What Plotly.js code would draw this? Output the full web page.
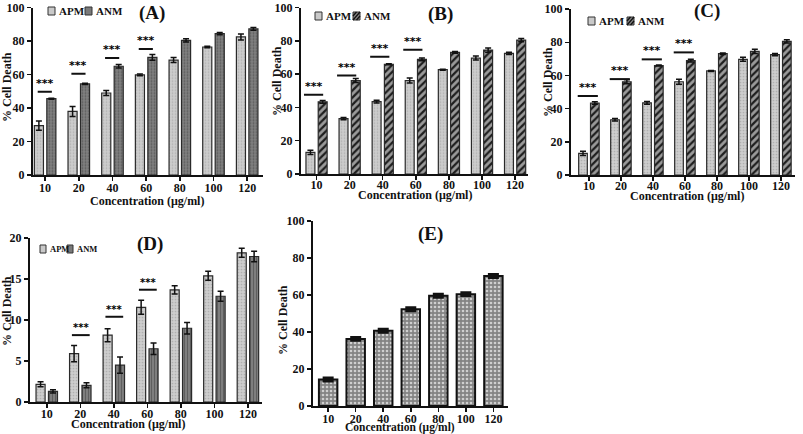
<!DOCTYPE html>
<html><head><meta charset="utf-8">
<script src="https://cdn.plot.ly/plotly-3.0.1.min.js"></script>
<style>html,body{margin:0;padding:0;background:#fff}#chart{width:803px;height:434px}</style>
</head><body><div id="chart"></div>
<script>
// ---------- data ----------
const categories = ["10","20","40","60","80","100","120"];

const A_apm     = [29.5, 38.0, 49.0, 59.8, 68.7, 76.5, 82.5];
const A_apm_err = [2.8, 3.0, 1.5, 0.5, 1.5, 0.5, 1.8];
const A_anm     = [45.6, 54.5, 65.0, 70.3, 80.5, 84.5, 87.3];
const A_anm_err = [0.3, 0.4, 1.0, 1.7, 1.0, 0.7, 0.8];

const B_apm     = [13.0, 33.3, 43.5, 56.2, 62.7, 69.7, 72.5];
const B_apm_err = [1.3, 0.7, 0.8, 1.5, 0.3, 1.2, 0.7];
const B_anm     = [43.4, 56.2, 66.0, 68.9, 73.1, 74.5, 80.5];
const B_anm_err = [0.8, 1.2, 0.3, 0.8, 0.5, 1.3, 1.0];

const C_apm     = [13.0, 33.3, 43.5, 56.2, 62.7, 69.7, 72.5];
const C_apm_err = [1.3, 0.7, 0.8, 1.5, 0.3, 1.2, 0.7];
const C_anm     = [43.4, 56.2, 66.0, 68.9, 73.1, 74.5, 80.5];
const C_anm_err = [0.8, 1.2, 0.3, 0.8, 0.5, 1.3, 1.0];

const D_apm     = [2.16, 5.9, 8.15, 11.55, 13.67, 15.4, 18.2];
const D_apm_err = [0.3, 1.0, 0.8, 0.85, 0.5, 0.55, 0.55];
const D_anm     = [1.3, 2.04, 4.5, 6.5, 9.0, 12.9, 17.75];
const D_anm_err = [0.2, 0.3, 1.0, 0.7, 0.7, 0.6, 0.65];

const E_vals    = [14.3, 36.3, 40.7, 52.3, 59.6, 60.5, 70.3];
const E_err     = [0.8, 0.8, 0.8, 0.8, 0.8, 0.8, 0.8];

// significance bars: category index and height
const A_sig_idx = [0,1,2,3]; const A_sig_y = [49.8, 60.5, 70.0, 75.3];
const B_sig_idx = [0,1,2,3]; const B_sig_y = [47.6, 59.2, 70.5, 74.7];
const C_sig_idx = [0,1,2,3]; const C_sig_y = [47.6, 57.8, 69.7, 73.9];
const D_sig_idx = [1,2,3];   const D_sig_y = [8.16, 10.4, 13.7];

const yticks100 = [0, 20, 40, 60, 80, 100];
const yticks20  = [0, 5, 10, 15, 20];

const xtitle = "Concentration (μg/ml)";
const ytitle = "% Cell Death";

// ---------- helpers ----------
const W = 803, H = 434;
const FONT = "Liberation Serif, Times New Roman, serif";
const px = x => x / W, py = y => 1 - y / H;
const idx = categories.map((_, i) => i);

const outline = {color: "#2a2a2a", width: 1.2};
const apmMarker = {color: "#c9c9c9", line: outline,
  pattern: {shape: ".", fgcolor: "#b0b0b0", bgcolor: "#cdcdcd", size: 3, solidity: 0.25}};
const anmMarkerA = {color: "#7a7a7a", line: outline,
  pattern: {shape: ".", fgcolor: "#5c5c5c", bgcolor: "#808080", size: 3, solidity: 0.3}};
const anmMarkerB = {color: "#888", line: outline,
  pattern: {shape: "/", fgcolor: "#1e1e1e", bgcolor: "#9a9a9a", size: 5, solidity: 0.45}};
const anmMarkerD = {color: "#777", line: outline,
  pattern: {shape: "|", fgcolor: "#5a5a5a", bgcolor: "#7e7e7e", size: 3, solidity: 0.3}};
const eMarker = {color: "#8a8a8a", line: {color: "#111", width: 2},
  pattern: {shape: ".", fgcolor: "#cfcfcf", bgcolor: "#848484", size: 4, solidity: 0.35}};

function err(arr, w, t) { return {type: "data", array: arr, visible: true, color: "#111", thickness: t || 1.5, width: w || 3}; }

function pair(apm, apmE, anm, anmE, anmMarker, n) {
  const xa = n === 1 ? "x" : "x" + n, ya = n === 1 ? "y" : "y" + n;
  return [
    {type: "bar", name: "APM", x: idx, y: apm, error_y: err(apmE), marker: apmMarker,
     width: 0.27, offset: -0.32, xaxis: xa, yaxis: ya, showlegend: false},
    {type: "bar", name: "ANM", x: idx, y: anm, error_y: err(anmE), marker: anmMarker,
     width: 0.27, offset: 0.05, xaxis: xa, yaxis: ya, showlegend: false}
  ];
}

const data = [
  ...pair(A_apm, A_apm_err, A_anm, A_anm_err, anmMarkerA, 1),
  ...pair(B_apm, B_apm_err, B_anm, B_anm_err, anmMarkerB, 2),
  ...pair(C_apm, C_apm_err, C_anm, C_anm_err, anmMarkerB, 3),
  ...pair(D_apm, D_apm_err, D_anm, D_anm_err, anmMarkerD, 4),
  {type: "bar", name: "E", x: idx, y: E_vals, error_y: err(E_err, 5.5, 3), marker: eMarker,
   width: 0.67, xaxis: "x5", yaxis: "y5", showlegend: false}
];

function xax(x0, x1, range, standoff) {
  return {domain: [px(x0), px(x1)], range: range, tickmode: "array", tickvals: idx,
    ticktext: categories, ticks: "outside", ticklen: 4, tickwidth: 1.5, tickcolor: "#111",
    ticklabelstandoff: standoff, automargin: false, ticklabeloverflow: "allow",
    showline: true, linecolor: "#111", linewidth: 2, showgrid: false, zeroline: false,
    tickfont: {family: FONT, size: 12, color: "#111", weight: "bold"}, fixedrange: true};
}
function yax(y0, y1, range, tv) {
  return {domain: [py(y1), py(y0)], range: range, tickmode: "array", tickvals: tv,
    ticktext: tv.map(String), ticks: "outside", ticklen: 4,
    tickwidth: 1.5, tickcolor: "#111", showline: true, linecolor: "#111", linewidth: 2,
    showgrid: false, zeroline: false, automargin: false, ticklabeloverflow: "allow",
    tickfont: {family: FONT, size: 12, color: "#111", weight: "bold"}, fixedrange: true};
}

const layout = {
  width: W, height: H, margin: {l: 0, r: 0, t: 0, b: 0},
  paper_bgcolor: "#fff", plot_bgcolor: "#fff", showlegend: false,
  font: {family: FONT, color: "#111", weight: "bold"},
  xaxis:  Object.assign(xax(33, 263, [-0.36, 6.47], -3), {anchor: "y"}),
  yaxis:  Object.assign(yax(7.6, 175, [0, 100.05], yticks100), {anchor: "x"}),
  xaxis2: Object.assign(xax(301, 528, [-0.47, 6.39], -5), {anchor: "y2"}),
  yaxis2: Object.assign(yax(7.6, 174, [0, 100.05], yticks100), {anchor: "x2"}),
  xaxis3: Object.assign(xax(571, 795, [-0.56, 6.44], -5), {anchor: "y3"}),
  yaxis3: Object.assign(yax(9, 175, [0, 100.05], yticks100), {anchor: "x3"}),
  xaxis4: Object.assign(xax(30, 262, [-0.5, 6.42], -4), {anchor: "y4"}),
  yaxis4: Object.assign(yax(238, 402, [0, 20.01], yticks20), {anchor: "x4"}),
  xaxis5: Object.assign(xax(313, 508, [-0.55, 6.53], -3), {anchor: "y5"}),
  yaxis5: Object.assign(yax(221, 406, [0, 100.05], yticks100), {anchor: "x5"}),
  shapes: [], annotations: []
};

// significance lines and stars
const STARFONT = "DejaVu Sans, sans-serif";
function sig(idxs, ys, n, l, r, fs) {
  const xr = n === 1 ? "x" : "x" + n, yr = n === 1 ? "y" : "y" + n;
  idxs.forEach((c, k) => {
    layout.shapes.push({type: "line", xref: xr, yref: yr, x0: c + l, x1: c + r, y0: ys[k], y1: ys[k],
      line: {color: "#111", width: 2}});
    layout.annotations.push({xref: xr, yref: yr, x: c + (l + r) / 2, y: ys[k], text: "***",
      showarrow: false, yanchor: "bottom", yshift: 0,
      font: {family: STARFONT, size: fs || 11, color: "#000000", weight: "bold"}});
  });
}
sig(A_sig_idx, A_sig_y, 1, -0.22, 0.2);
sig(B_sig_idx, B_sig_y, 2, -0.38, 0.2);
sig(C_sig_idx, C_sig_y, 3, -0.35, 0.28);
sig(D_sig_idx, D_sig_y, 4, -0.25, 0.28, 10);

function txt(x, y, text, size, angle, xanchor) {
  layout.annotations.push({xref: "paper", yref: "paper", x: px(x), y: py(y), text: text, showarrow: false,
    xanchor: xanchor || "center", yanchor: "middle", textangle: angle || 0,
    font: {family: FONT, size: size, color: "#111", weight: "bold"}});
}
// panel titles
txt(152, 13, "(A)", 19); txt(440, 14, "(B)", 19); txt(707, 11, "(C)", 19);
txt(150, 244, "(D)", 19); txt(430, 234, "(E)", 19);
// axis titles
txt(147, 201, xtitle, 12); txt(415, 195, xtitle, 12); txt(687, 196, xtitle, 12);
txt(128, 424, xtitle, 12); txt(400, 427, xtitle, 11.5);
txt(7, 87, ytitle, 12, -90); txt(277, 81, ytitle, 12, -90); txt(548, 82, ytitle, 12, -90);
txt(7, 311, ytitle, 12, -90); txt(283, 320, ytitle, 12, -90);

// legends (drawn swatches + labels)
function swatch(x0, y0, w, h, fill, hatch) {
  layout.shapes.push({type: "rect", xref: "paper", yref: "paper", x0: px(x0), x1: px(x0 + w),
    y0: py(y0 + h), y1: py(y0), fillcolor: fill, line: {color: "#333", width: 1}});
  if (hatch) {
    const segs = [[0, h * 0.5, w * 0.5, 0], [0, h, w, 0], [w * 0.5, h, w, h * 0.5]];
    segs.forEach(s => layout.shapes.push({type: "line", xref: "paper", yref: "paper",
      x0: px(x0 + s[0]), y0: py(y0 + s[1]), x1: px(x0 + s[2]), y1: py(y0 + s[3]),
      line: {color: "#111", width: 1.3}}));
  }
}
function legend(x, y, anmFill, hatch, gap, size, sw) {
  const w = sw || 7;
  swatch(x, y, w, 8, "#c9c9c9", false);
  txt(x + w + 1.5, y + 4, "APM", size, 0, "left");
  swatch(x + gap, y, w, 8, anmFill, hatch);
  txt(x + gap + w + 1.5, y + 4, "ANM", size, 0, "left");
}
legend(48, 7, "#7a7a7a", false, 37, 11);
legend(315, 12, "#8a8a8a", true, 38, 11);
legend(588, 17, "#8a8a8a", true, 39, 11);
legend(40, 245, "#7a7a7a", false, 27, 8.5, 6);

Plotly.newPlot("chart", data, layout, {displayModeBar: false, staticPlot: true});
</script></body></html>
